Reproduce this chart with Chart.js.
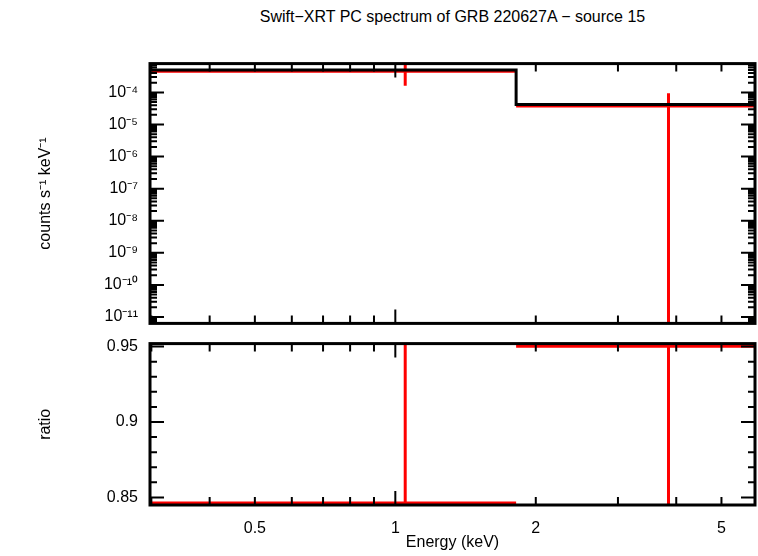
<!DOCTYPE html>
<html>
<head>
<meta charset="utf-8">
<script src="https://cdn.jsdelivr.net/npm/chart.js@4"></script>
<style>
  body { margin: 0; background: #fff; width: 758px; height: 556px; position: relative; overflow: hidden; }
  #title { position: absolute; top: 8px; left: 150px; width: 605px; text-align: center;
           font: 16px "Liberation Sans", Arial, sans-serif; color: #000; }
  canvas { position: absolute; left: 0; }
</style>
</head>
<body>
<div id="title">Swift&minus;XRT PC spectrum of GRB 220627A &minus; source 15</div>
<canvas id="top" width="758" height="287" style="top:50px;width:758px;height:287px"></canvas>
<canvas id="bottom" width="758" height="226" style="top:330px;width:758px;height:226px"></canvas>
<script>
// spectrum bins (keV)
const binEdges = [0.3, 1.815, 5.9];
const modelVals = [5.0e-4, 4.2e-5];
const dataVals = [4.6e-4, 3.8e-5];
const errX = [1.05, 3.85];
const errLo = [1.6e-4, 1e-12];
const errHi = [1e-3, 9.4e-5];
// ratio panel
const ratioVals = [0.8463, 0.9503];
const ratioLo = [0.80, 0.80];
const ratioHi = [1.0, 1.0];
// tick labels
const logTicks = [1e-11, 1e-10, 1e-9, 1e-8, 1e-7, 1e-6, 1e-5, 1e-4];
const ratioTicks = [0.85, 0.9, 0.95];
const energyTicks = [0.5, 1, 2, 5];

const FONT = '"Liberation Sans", Arial, sans-serif';
const RED = '#ff0000';
const sup = { '-': '\u207b', '0': '\u2070', '1': '\u00b9', '2': '\u00b2', '3': '\u00b3', '4': '\u2074',
              '5': '\u2075', '6': '\u2076', '7': '\u2077', '8': '\u2078', '9': '\u2079' };
function powLabel(v) {
    const e = Math.round(Math.log10(v)).toString();
    return '10' + e.split('').map(c => sup[c]).join('');
}

function stepPoints(edges, vals) {
    const pts = [];
    vals.forEach((v, i) => {
        if (i > 0) pts.push({ x: edges[i], y: vals[i - 1] });
        pts.push({ x: edges[i], y: v });
        pts.push({ x: edges[i + 1], y: v });
    });
    return pts;
}
function segment(x1, y1, x2, y2, color) {
    return { data: [{ x: x1, y: y1 }, { x: x2, y: y2 }], borderColor: color, borderWidth: 3,
             pointRadius: 0, showLine: true, fill: false };
}
function dataSets(vals, lo, hi) {
    const sets = [];
    vals.forEach((v, i) => {
        sets.push(segment(binEdges[i], v, binEdges[i + 1], v, RED));
        sets.push(segment(errX[i], lo[i], errX[i], hi[i], RED));
    });
    return sets;
}

// frame and inward ticks, like the original plot
const framePlugin = {
    id: 'frame',
    afterDatasetsDraw(chart, args, opts) {
        const { ctx, chartArea: a, scales } = chart;
        ctx.save();
        ctx.strokeStyle = '#000';
        ctx.lineWidth = 3;
        ctx.strokeRect(a.left, a.top, a.right - a.left, a.bottom - a.top);
        ctx.lineWidth = 2;
        ctx.beginPath();
        opts.xTicks.forEach(([v, len]) => {
            const px = scales.x.getPixelForValue(v);
            ctx.moveTo(px, a.bottom); ctx.lineTo(px, a.bottom - len);
            ctx.moveTo(px, a.top); ctx.lineTo(px, a.top + len);
        });
        opts.yTicks.forEach(([v, len]) => {
            const py = scales.y.getPixelForValue(v);
            if (py < a.top || py > a.bottom) return;
            ctx.moveTo(a.left, py); ctx.lineTo(a.left + len, py);
            ctx.moveTo(a.right, py); ctx.lineTo(a.right - len, py);
        });
        ctx.stroke();
        ctx.restore();
    }
};

const xMinor = [];
[0.3, 0.4, 0.5, 0.6, 0.7, 0.8, 0.9, 1, 2, 3, 4, 5].forEach(v => xMinor.push([v, v === 1 ? 14 : 8]));
const yLogTicks = [];
for (let e = -12; e <= -4; e++) for (let m = 1; m <= 9; m++) yLogTicks.push([m * Math.pow(10, e), m === 1 ? 14 : 7]);
const yLinTicks = [];
for (let v = 84; v <= 95; v++) yLinTicks.push([v / 100, v % 5 === 0 ? 14 : 7]);

const common = {
    responsive: false, animation: false, devicePixelRatio: 1,
    plugins: { legend: { display: false }, tooltip: { enabled: false } }
};

new Chart(document.getElementById('top'), {
    type: 'scatter',
    data: {
        datasets: [
            { data: stepPoints(binEdges, modelVals), borderColor: '#000', borderWidth: 3, pointRadius: 0, showLine: true },
            ...dataSets(dataVals, errLo, errHi)
        ]
    },
    options: {
        ...common,
        layout: { padding: { top: 6, right: 3, bottom: 1, left: 0 } },
        plugins: { ...common.plugins, frame: { xTicks: xMinor, yTicks: yLogTicks } },
        scales: {
            x: { type: 'logarithmic', min: 0.298, max: 5.9, display: false },
            y: {
                type: 'logarithmic', min: 6.3e-12, max: 7.9e-4,
                afterFit(s) { s.width = 150; },
                afterBuildTicks(s) { s.ticks = logTicks.map(v => ({ value: v })); },
                grid: { display: false },
                border: { display: false },
                ticks: { color: '#000', font: { family: FONT, size: 16 }, padding: 4, autoSkip: false, callback: v => powLabel(v) },
                title: { display: true, text: 'counts s\u207b\u00b9 keV\u207b\u00b9', color: '#000',
                         font: { family: FONT, size: 16 }, padding: { top: 36 } }
            }
        }
    },
    plugins: [framePlugin]
});

new Chart(document.getElementById('bottom'), {
    type: 'scatter',
    data: { datasets: dataSets(ratioVals, ratioLo, ratioHi) },
    options: {
        ...common,
        layout: { padding: { top: 6, right: 3, bottom: 4, left: 0 } },
        plugins: { ...common.plugins, frame: { xTicks: xMinor, yTicks: yLinTicks } },
        scales: {
            x: {
                type: 'logarithmic', min: 0.298, max: 5.9,
                afterFit(s) { s.height = 47; },
                afterBuildTicks(s) { s.ticks = energyTicks.map(v => ({ value: v })); },
                grid: { display: false },
                border: { display: false },
                ticks: { color: '#000', font: { family: FONT, size: 16 }, padding: 6, autoSkip: false, maxRotation: 0, callback: v => String(v) },
                title: { display: true, text: 'Energy (keV)', color: '#000', font: { family: FONT, size: 16 }, padding: 0 }
            },
            y: {
                min: 0.845, max: 0.952,
                afterFit(s) { s.width = 150; },
                afterBuildTicks(s) { s.ticks = ratioTicks.map(v => ({ value: v })); },
                grid: { display: false },
                border: { display: false },
                ticks: { color: '#000', font: { family: FONT, size: 16 }, padding: 4, autoSkip: false, callback: v => String(v) },
                title: { display: true, text: 'ratio', color: '#000', font: { family: FONT, size: 16 }, padding: { top: 36 } }
            }
        }
    },
    plugins: [framePlugin]
});
</script>
</body>
</html>
